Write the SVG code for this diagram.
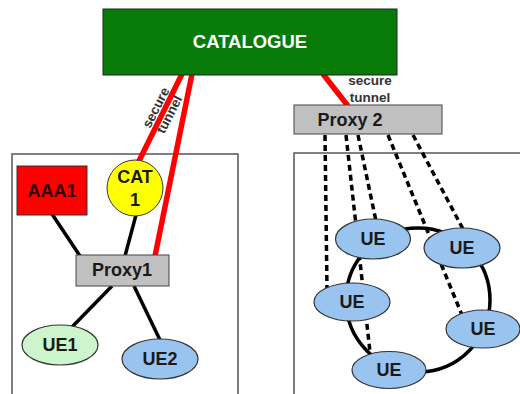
<svg xmlns="http://www.w3.org/2000/svg" width="520" height="394" viewBox="0 0 520 394">
<style>
text{font-family:"Liberation Sans",Arial,sans-serif;font-weight:bold;text-anchor:middle}
.lbl{font-size:18px;fill:#1a1a1a}
.sm{font-size:13.5px;fill:#333}
.box{fill:none;stroke:#555;stroke-width:1.5}
.blk{stroke:#000;stroke-width:3.5;fill:none}
.red{stroke:#f00;stroke-width:5.5;fill:none}
.dash{stroke:#000;stroke-width:3.5;stroke-dasharray:6 4;fill:none}
.ue{fill:#99c4ef;stroke:#333;stroke-width:1.2}
</style>
<rect width="520" height="394" fill="#fff"/>
<g id="domain-left"><rect class="box" x="12" y="154" width="226" height="260"/></g>
<g id="domain-right"><rect class="box" x="294" y="153" width="240" height="260"/></g>
<g id="connectors">
<line class="blk" x1="52" y1="214" x2="80" y2="256"/>
<line class="blk" x1="136" y1="215" x2="125" y2="256"/>
<line class="blk" x1="112" y1="286" x2="72" y2="327"/>
<line class="blk" x1="134" y1="286" x2="160" y2="340"/>
<line class="red" x1="182" y1="74" x2="138" y2="163"/>
<line class="red" x1="192" y1="74" x2="155" y2="256"/>
<line class="red" x1="323" y1="74" x2="348" y2="106"/>
<circle cx="418" cy="300" r="72" class="blk"/>
<line class="dash" x1="325" y1="135" x2="327" y2="290"/>
<line class="dash" x1="346" y1="135" x2="370" y2="352"/>
<line class="dash" x1="358" y1="135" x2="376" y2="221"/>
<line class="dash" x1="388" y1="135" x2="462" y2="315"/>
<line class="dash" x1="413" y1="135" x2="463" y2="229"/>
<g transform="translate(163.5,111.5) rotate(-63)"><text class="sm" x="0" y="-4">secure</text><text class="sm" x="0" y="11">tunnel</text></g>
<text class="sm" x="370" y="85">secure</text>
<text class="sm" x="370" y="102">tunnel</text>
</g>
<g id="catalogue"><rect x="103" y="9" width="294" height="66" fill="#087a08" stroke="#222" stroke-width="1"/><text x="250" y="48" style="font-size:18.5px;fill:#fff">CATALOGUE</text></g>
<g id="aaa1"><rect x="17" y="166" width="70" height="49" fill="#f00" stroke="#333" stroke-width="1"/><text class="lbl" x="52" y="197" style="fill:#300">AAA1</text></g>
<g id="cat1"><circle cx="135" cy="188" r="28" fill="#ff0" stroke="#333" stroke-width="1"/><text class="lbl" x="135" y="183">CAT</text><text class="lbl" x="135" y="206">1</text></g>
<g id="proxy1"><rect x="76" y="255" width="93" height="31" fill="#c0c0c0" stroke="#444" stroke-width="1"/><text class="lbl" x="122" y="276">Proxy1</text></g>
<g id="ue1"><ellipse cx="60" cy="345" rx="38" ry="20" fill="#ccf5cc" stroke="#333" stroke-width="1.2"/><text class="lbl" x="60" y="351">UE1</text></g>
<g id="ue2"><ellipse cx="160" cy="359" rx="38" ry="20" class="ue"/><text class="lbl" x="160" y="365">UE2</text></g>
<g id="proxy2"><rect x="294" y="105" width="148" height="29" fill="#c0c0c0" stroke="#444" stroke-width="1"/><text class="lbl" x="350" y="126">Proxy 2</text></g>
<g id="ue-a"><ellipse cx="373" cy="239" rx="37.5" ry="20" class="ue"/><text class="lbl" x="373" y="245">UE</text></g>
<g id="ue-b"><ellipse cx="462" cy="248" rx="38" ry="20" class="ue"/><text class="lbl" x="462" y="254">UE</text></g>
<g id="ue-c"><ellipse cx="352" cy="302" rx="38" ry="19" class="ue"/><text class="lbl" x="352" y="308">UE</text></g>
<g id="ue-d"><ellipse cx="483" cy="329" rx="37" ry="19" class="ue"/><text class="lbl" x="483" y="335">UE</text></g>
<g id="ue-e"><ellipse cx="389" cy="370" rx="37" ry="18.5" class="ue"/><text class="lbl" x="389" y="376">UE</text></g>
</svg>
